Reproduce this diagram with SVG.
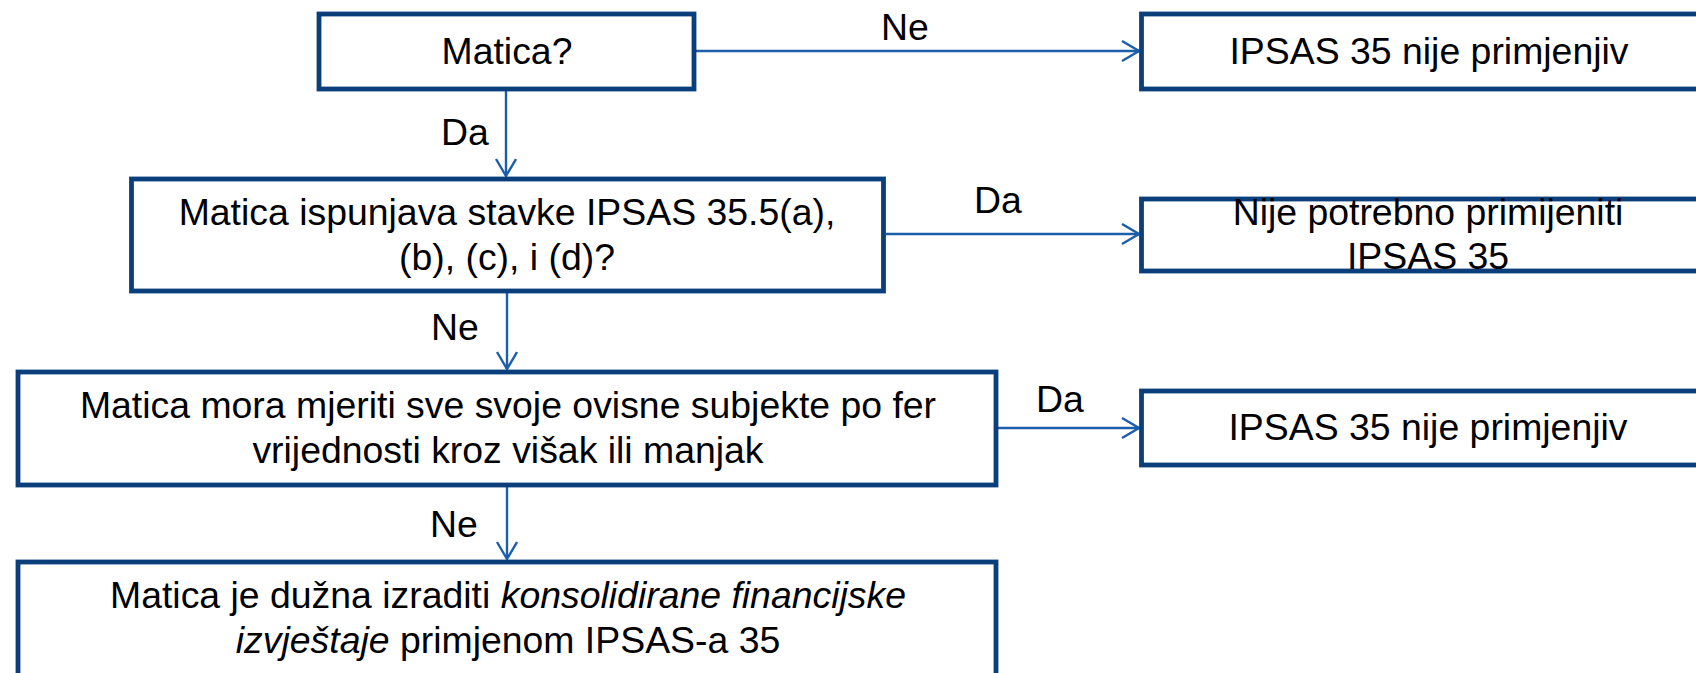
<svg xmlns="http://www.w3.org/2000/svg" width="1696" height="673" viewBox="0 0 1696 673">
<defs>
<style>
.box{fill:#fff;stroke:#0A3F7C;stroke-width:4.8}
.t{font-family:"Liberation Sans",Arial,sans-serif;font-size:37.4px;fill:#000;text-anchor:middle}
.c{fill:none;stroke:#1B5EAB;stroke-width:2.4}
.i{font-style:italic}
</style>
<marker id="ah" markerUnits="userSpaceOnUse" markerWidth="20" markerHeight="24" refX="18" refY="11" orient="auto">
<path d="M1,1 L18,11 L1,21" fill="none" stroke="#1B5EAB" stroke-width="2.4"/>
</marker>
</defs>
<rect width="1696" height="673" fill="#fff"/>
<g id="connectors">
<line class="c" x1="694" y1="51" x2="1139" y2="51" marker-end="url(#ah)"/>
<text class="t" x="905" y="40">Ne</text>
<line class="c" x1="506" y1="91" x2="506" y2="176" marker-end="url(#ah)"/>
<text class="t" x="465" y="145">Da</text>
<line class="c" x1="886" y1="234" x2="1139" y2="234" marker-end="url(#ah)"/>
<text class="t" x="998" y="213">Da</text>
<line class="c" x1="507" y1="293" x2="507" y2="369" marker-end="url(#ah)"/>
<text class="t" x="455" y="340">Ne</text>
<line class="c" x1="998" y1="428" x2="1139" y2="428" marker-end="url(#ah)"/>
<text class="t" x="1060" y="412">Da</text>
<line class="c" x1="507" y1="487" x2="507" y2="559" marker-end="url(#ah)"/>
<text class="t" x="454" y="537">Ne</text>
</g>
<g id="n1">
<rect class="box" x="319" y="14" width="375" height="75"/>
<text class="t" x="507" y="64">Matica?</text>
</g>
<g id="n2">
<rect class="box" x="1141.5" y="14" width="580" height="75"/>
<text class="t" x="1429" y="64">IPSAS 35 nije primjenjiv</text>
</g>
<g id="n3">
<rect class="box" x="131.5" y="179" width="752" height="112"/>
<text class="t" x="507" y="225">Matica ispunjava stavke IPSAS 35.5(a),</text>
<text class="t" x="507" y="270">(b), (c), i (d)?</text>
</g>
<g id="n4">
<rect class="box" x="1141.5" y="199" width="580" height="72"/>
<text class="t" x="1428" y="225">Nije potrebno primijeniti</text>
<text class="t" x="1428" y="269">IPSAS 35</text>
</g>
<g id="n5">
<rect class="box" x="18" y="372" width="978" height="113"/>
<text class="t" x="508" y="418">Matica mora mjeriti sve svoje ovisne subjekte po fer</text>
<text class="t" x="508" y="463">vrijednosti kroz višak ili manjak</text>
</g>
<g id="n6">
<rect class="box" x="1141.5" y="391" width="580" height="74"/>
<text class="t" x="1428" y="440">IPSAS 35 nije primjenjiv</text>
</g>
<g id="n7">
<rect class="box" x="18" y="562" width="978" height="150"/>
<text class="t" x="508" y="608">Matica je dužna izraditi <tspan class="i">konsolidirane financijske</tspan></text>
<text class="t" x="508" y="653"><tspan class="i">izvještaje</tspan> primjenom IPSAS-a 35</text>
</g>
</svg>
